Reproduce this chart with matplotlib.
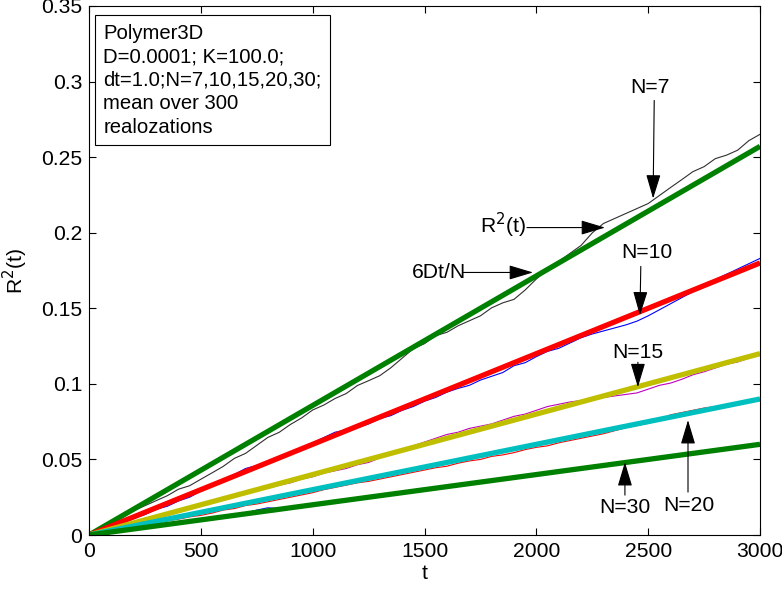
import matplotlib
matplotlib.use('Agg')
import matplotlib.pyplot as plt
import numpy as np

plt.rcParams['font.family'] = ['Liberation Sans', 'DejaVu Sans']
FS = 15.2
FS_BOX = 14.6

# Time grid of the sampled curves
t = np.arange(0, 3001, 50)

# Simulated R^2(t) (one value per t above)
r2_n7 = [0, 0.0043, 0.0081, 0.0119, 0.0161, 0.0194, 0.0227, 0.0260, 0.0303, 0.0326,
         0.0369, 0.0411, 0.0454, 0.0507, 0.0540, 0.0593, 0.0646, 0.0679, 0.0731, 0.0774,
         0.0827, 0.0860, 0.0903, 0.0936, 0.0989, 0.1021, 0.1054, 0.1107, 0.1170, 0.1233,
         0.1266, 0.1319, 0.1341, 0.1384, 0.1417, 0.1450, 0.1503, 0.1536, 0.1559, 0.1621,
         0.1694, 0.1757, 0.1810, 0.1863, 0.1916, 0.1999, 0.2061, 0.2094, 0.2127, 0.2160,
         0.2193, 0.2246, 0.2299, 0.2351, 0.2404, 0.2437, 0.2490, 0.2513, 0.2546, 0.2609,
         0.2651]
r2_n10 = [0, 0.0030, 0.0060, 0.0085, 0.0110, 0.0135, 0.0170, 0.0190, 0.0225, 0.0250,
          0.0290, 0.0330, 0.0365, 0.0400, 0.0440, 0.0460, 0.0480, 0.0500, 0.0540, 0.0575,
          0.0610, 0.0645, 0.0680, 0.0695, 0.0710, 0.0735, 0.0770, 0.0790, 0.0825, 0.0850,
          0.0885, 0.0910, 0.0945, 0.0970, 0.0990, 0.1025, 0.1050, 0.1075, 0.1120, 0.1140,
          0.1180, 0.1215, 0.1235, 0.1270, 0.1305, 0.1330, 0.1350, 0.1370, 0.1390, 0.1415,
          0.1450, 0.1490, 0.1530, 0.1570, 0.1610, 0.1650, 0.1690, 0.1725, 0.1760, 0.1795,
          0.1830]
r2_n15 = [0, 0.0020, 0.0040, 0.0065, 0.0080, 0.0095, 0.0120, 0.0140, 0.0160, 0.0175,
          0.0200, 0.0220, 0.0240, 0.0260, 0.0280, 0.0295, 0.0310, 0.0330, 0.0345, 0.0370,
          0.0385, 0.0410, 0.0425, 0.0440, 0.0465, 0.0480, 0.0510, 0.0540, 0.0565, 0.0590,
          0.0615, 0.0640, 0.0665, 0.0680, 0.0705, 0.0720, 0.0735, 0.0760, 0.0785, 0.0800,
          0.0825, 0.0850, 0.0865, 0.0880, 0.0890, 0.0900, 0.0910, 0.0920, 0.0930, 0.0940,
          0.0965, 0.0990, 0.1005, 0.1030, 0.1060, 0.1080, 0.1105, 0.1130, 0.1145, 0.1170,
          0.1190]
r2_n20 = [0, 0.0015, 0.0030, 0.0045, 0.0055, 0.0070, 0.0085, 0.0095, 0.0105, 0.0120,
          0.0130, 0.0145, 0.0165, 0.0175, 0.0195, 0.0205, 0.0220, 0.0235, 0.0250, 0.0265,
          0.0280, 0.0300, 0.0315, 0.0330, 0.0345, 0.0355, 0.0370, 0.0385, 0.0400, 0.0415,
          0.0430, 0.0445, 0.0455, 0.0475, 0.0490, 0.0500, 0.0520, 0.0530, 0.0545, 0.0565,
          0.0580, 0.0590, 0.0610, 0.0625, 0.0640, 0.0655, 0.0670, 0.0690, 0.0710, 0.0725,
          0.0740, 0.0765, 0.0795, 0.0810, 0.0825, 0.0840, 0.0850, 0.0855, 0.0870, 0.0885,
          0.0895]
r2_n30 = [0, 0.0010, 0.0020, 0.0030, 0.0040, 0.0050, 0.0060, 0.0070, 0.0080, 0.0090,
          0.0098, 0.0110, 0.0120, 0.0130, 0.0145, 0.0165, 0.0180, 0.0175, 0.0180, 0.0190,
          0.0198, 0.0210, 0.0220, 0.0230, 0.0238, 0.0250, 0.0260, 0.0270, 0.0280, 0.0290,
          0.0298, 0.0310, 0.0320, 0.0330, 0.0340, 0.0350, 0.0358, 0.0370, 0.0380, 0.0390,
          0.0398, 0.0410, 0.0420, 0.0430, 0.0440, 0.0450, 0.0460, 0.0470, 0.0480, 0.0490,
          0.0498, 0.0510, 0.0520, 0.0530, 0.0540, 0.0550, 0.0560, 0.0570, 0.0580, 0.0590,
          0.0598]

# Theory 6Dt/N
D = 0.0001
N_vals = [7, 10, 15, 20, 30]
theory_colors = [(0, 0.5, 0), (1, 0, 0), (0.75, 0.75, 0), (0, 0.75, 0.75), (0, 0.5, 0)]
noisy = [r2_n7, r2_n10, r2_n15, r2_n20, r2_n30]
noisy_colors = ['#303030', 'b', 'm', 'r', 'b']
t_line = np.array([0, 3000])

# Annotations: text, text anchor, alignment, arrow tail, arrow tip (data coords)
ann_text = ['N=7', 'R$^2$(t)', '6Dt/N', 'N=10', 'N=15', 'N=30', 'N=20']
ann_xy_text = [(2510, 0.2959), (1748, 0.2050), (1443, 0.1737), (2495, 0.1870),
               (2455, 0.1210), (2395, 0.0182), (2680, 0.0197)]
ann_ha = ['center', 'left', 'left', 'center', 'center', 'center', 'center']
ann_tail = [(2527, 0.2875), (1958, 0.2034), (1672, 0.1737), (2467, 0.1777),
            (2454, 0.1143), (2396, 0.0264), (2678, 0.0284)]
ann_tip = [(2522, 0.2226), (2307, 0.2034), (1985, 0.1737), (2463, 0.1453),
           (2454, 0.0978), (2396, 0.0482), (2678, 0.0760)]

fig = plt.figure(figsize=(7.82, 5.93), dpi=100)
ax = fig.add_axes([0.1138, 0.0978, 0.8581, 0.8921])

for y, c in zip(noisy, noisy_colors):
    ax.plot(t, y, color=c, lw=0.8)
for n, c in zip(N_vals, theory_colors):
    ax.plot(t_line, 6 * D * t_line / n, color=c, lw=3.8, solid_capstyle='butt')

for s, xt, ha, tail, tip in zip(ann_text, ann_xy_text, ann_ha, ann_tail, ann_tip):
    ax.text(xt[0], xt[1], s, fontsize=FS, ha=ha, va='center')
    ax.annotate('', xy=tip, xytext=tail,
                arrowprops=dict(arrowstyle='-|>,head_length=1.0,head_width=0.3',
                                mutation_scale=15, color='k', lw=0.8,
                                shrinkA=0, shrinkB=0))

ax.text(0.0215, 0.966,
        'Polymer3D\nD=0.0001; K=100.0;\ndt=1.0;N=7,10,15,20,30;\nmean over 300\nrealozations',
        transform=ax.transAxes, fontsize=FS_BOX, va='top', ha='left', linespacing=1.3,
        bbox=dict(boxstyle='square,pad=0.42', fc='white', ec='k', lw=0.8))

ax.set_xlim(0, 3000)
ax.set_ylim(0, 0.35)
ax.set_xticks(np.arange(0, 3001, 500))
ax.set_yticks(np.arange(0, 0.351, 0.05))
ax.set_yticklabels(['0', '0.05', '0.1', '0.15', '0.2', '0.25', '0.3', '0.35'])
ax.tick_params(direction='in', top=True, right=True, labelsize=FS, length=5, width=0.8,
               pad=5)
for sp in ax.spines.values():
    sp.set_linewidth(0.8)
ax.set_xlabel('t', fontsize=FS, labelpad=2)
ax.set_ylabel('R$^2$(t)', fontsize=FS, labelpad=8)

fig.savefig('out.png', dpi=100)
